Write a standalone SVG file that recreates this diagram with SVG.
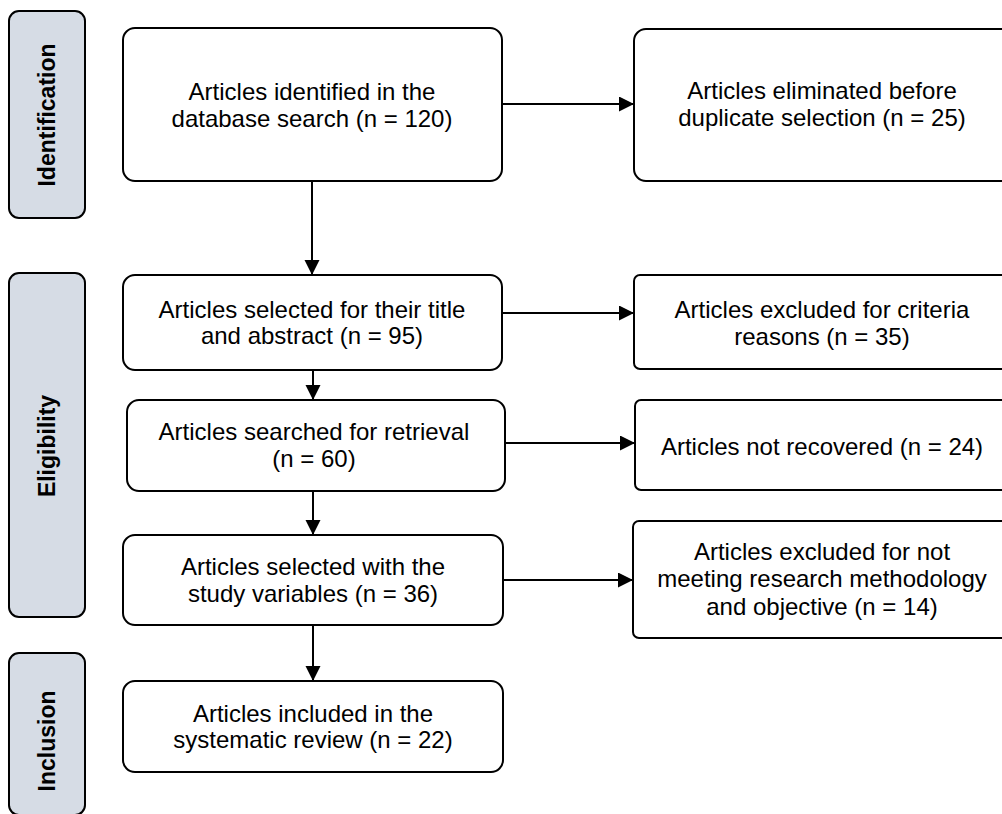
<svg xmlns="http://www.w3.org/2000/svg" width="1002" height="814" viewBox="0 0 1002 814">
  <style>
    .box { fill: #ffffff; stroke: #000000; stroke-width: 2; }
    .side { fill: #d6dce5; stroke: #000000; stroke-width: 2; }
    .t { font-family: "Liberation Sans", Arial, sans-serif; font-size: 24px; fill: #000000; text-anchor: middle; }
    .st { font-family: "Liberation Sans", Arial, sans-serif; font-size: 23px; font-weight: bold; fill: #000000; text-anchor: middle; }
    .conn { stroke: #000000; stroke-width: 2; fill: none; marker-end: url(#arrow); }
  </style>
  <defs>
    <marker id="arrow" markerUnits="userSpaceOnUse" markerWidth="16" markerHeight="16" refX="15" refY="7.5" orient="auto">
      <path d="M0,0 L15,7.5 L0,15 Z" fill="#000000"/>
    </marker>
  </defs>
  <rect width="1002" height="814" fill="#ffffff"/>

  <g id="phase-identification">
    <rect class="side" x="9" y="11" width="76" height="207" rx="10"/>
    <text class="st" transform="translate(55,115) rotate(-90)">Identification</text>
  </g>
  <g id="phase-eligibility">
    <rect class="side" x="9" y="273" width="76" height="344" rx="10"/>
    <text class="st" transform="translate(55,446) rotate(-90)">Eligibility</text>
  </g>
  <g id="phase-inclusion">
    <rect class="side" x="9" y="653" width="76" height="162" rx="10"/>
    <text class="st" transform="translate(55,741) rotate(-90)">Inclusion</text>
  </g>

  <g id="connectors">
    <line class="conn" x1="312" y1="181" x2="312" y2="275"/>
    <line class="conn" x1="313" y1="370" x2="313" y2="400"/>
    <line class="conn" x1="313" y1="491" x2="313" y2="535"/>
    <line class="conn" x1="313" y1="625" x2="313" y2="681"/>
    <line class="conn" x1="502" y1="104" x2="634" y2="104"/>
    <line class="conn" x1="502" y1="313" x2="634" y2="313"/>
    <line class="conn" x1="505" y1="443" x2="635" y2="443"/>
    <line class="conn" x1="503" y1="580" x2="633" y2="580"/>
  </g>

  <g id="n-identified">
    <rect class="box" x="123" y="28" width="379" height="153" rx="12"/>
    <text class="t" x="312" y="100">Articles identified in the</text>
    <text class="t" x="312" y="127">database search (n = 120)</text>
  </g>
  <g id="n-eliminated">
    <rect class="box" x="634" y="29" width="380" height="152" rx="12"/>
    <text class="t" x="822" y="99">Articles eliminated before</text>
    <text class="t" x="822" y="126">duplicate selection (n = 25)</text>
  </g>
  <g id="n-title-abstract">
    <rect class="box" x="123" y="275" width="379" height="95" rx="12"/>
    <text class="t" x="312" y="318">Articles selected for their title</text>
    <text class="t" x="312" y="344">and abstract (n = 95)</text>
  </g>
  <g id="n-criteria">
    <rect class="box" x="634" y="275" width="380" height="94" rx="6"/>
    <text class="t" x="822" y="318">Articles excluded for criteria</text>
    <text class="t" x="822" y="345">reasons (n = 35)</text>
  </g>
  <g id="n-retrieval">
    <rect class="box" x="127" y="400" width="378" height="91" rx="12"/>
    <text class="t" x="314" y="440">Articles searched for retrieval</text>
    <text class="t" x="314" y="467">(n = 60)</text>
  </g>
  <g id="n-not-recovered">
    <rect class="box" x="635" y="400" width="380" height="90" rx="6"/>
    <text class="t" x="822" y="455">Articles not recovered (n = 24)</text>
  </g>
  <g id="n-variables">
    <rect class="box" x="123" y="535" width="380" height="90" rx="12"/>
    <text class="t" x="313" y="575">Articles selected with the</text>
    <text class="t" x="313" y="602">study variables (n = 36)</text>
  </g>
  <g id="n-methodology">
    <rect class="box" x="633" y="521" width="380" height="117" rx="6"/>
    <text class="t" x="822" y="560">Articles excluded for not</text>
    <text class="t" x="822" y="587">meeting research methodology</text>
    <text class="t" x="822" y="615">and objective (n = 14)</text>
  </g>
  <g id="n-included">
    <rect class="box" x="123" y="681" width="380" height="91" rx="12"/>
    <text class="t" x="313" y="722">Articles included in the</text>
    <text class="t" x="313" y="748">systematic review (n = 22)</text>
  </g>
</svg>
